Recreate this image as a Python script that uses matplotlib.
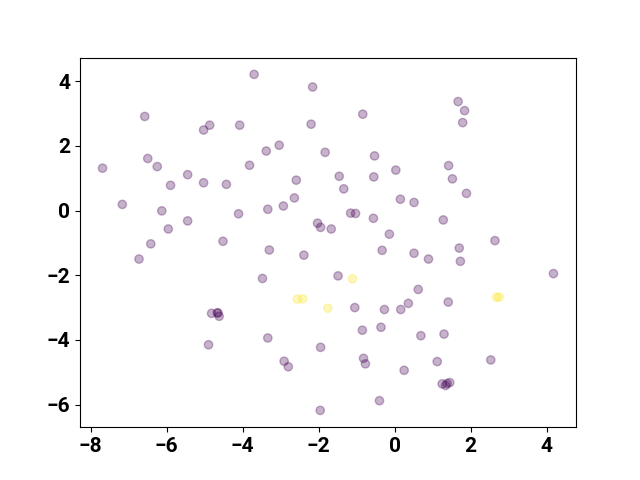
import matplotlib
matplotlib.use("Agg")
import matplotlib.pyplot as plt
import numpy as np

# ---- data: 2-D embedding, label 0 (purple) / 1 (yellow) -----------------
x0 = [-3.70, -6.58, -4.87, -5.03, -4.08, -7.69, -6.50, -6.25, -3.82, -5.45,
      -5.90, -5.03, -4.43, -7.17, -6.13, -4.11, -5.45, -5.96, -6.42, -4.52,
      -6.73, -4.82, -4.67, -4.65, -4.62, -4.90,
      -2.16, -0.84, -2.20, -3.04, -3.38, -1.83, -0.53, 0.03, -2.59, -1.46,
      -0.55, -1.34, -2.64, 0.15, 0.51, -3.34, -2.93, -1.16, -1.03, -0.56,
      -2.03, -1.95, -1.67, -0.14, -3.30, -0.33,
      1.67, 1.84, 1.79, 1.42, 1.52, 1.89, 1.28, 2.64, 1.70,
      -2.39, 0.51, -3.48, -1.49, -1.05, -0.27, 0.16, 0.36, -0.85, -0.36,
      -3.34, -1.95, -2.91, -2.80, -0.82, -0.77, 0.25, -0.40, -1.96,
      0.89, 1.73, 4.18, 0.62, 1.41, 0.69, 1.30, 2.53, 1.12,
      1.25, 1.34, 1.45, 1.38]
y0 = [4.21, 2.91, 2.64, 2.49, 2.64, 1.31, 1.61, 1.36, 1.40, 1.11,
      0.78, 0.86, 0.81, 0.19, -0.01, -0.10, -0.32, -0.57, -1.03, -0.95,
      -1.50, -3.18, -3.16, -3.17, -3.27, -4.15,
      3.82, 2.98, 2.67, 2.02, 1.84, 1.80, 1.69, 1.25, 0.94, 1.06,
      1.04, 0.67, 0.39, 0.35, 0.25, 0.04, 0.14, -0.08, -0.09, -0.24,
      -0.39, -0.52, -0.57, -0.73, -1.22, -1.23,
      3.37, 3.09, 2.72, 1.39, 0.98, 0.53, -0.29, -0.93, -1.16,
      -1.38, -1.32, -2.10, -2.02, -3.00, -3.06, -3.06, -2.87, -3.70, -3.61,
      -3.94, -4.23, -4.66, -4.83, -4.57, -4.74, -4.94, -5.88, -6.18,
      -1.50, -1.57, -1.95, -2.44, -2.83, -3.87, -3.82, -4.62, -4.67,
      -5.36, -5.41, -5.32, -5.35]

x1 = [-1.11, -2.56, -2.42, -1.76, 2.68, 2.75]
y1 = [-2.11, -2.74, -2.73, -3.02, -2.68, -2.68]

xs = np.array(x0 + x1)
ys = np.array(y0 + y1)
labels = np.array([0] * len(x0) + [1] * len(x1))

fig, ax = plt.subplots(figsize=(6.4, 4.8), dpi=100)
ax.scatter(xs, ys, c=labels, cmap="viridis", alpha=0.3)

ax.set_xticks([-8, -6, -4, -2, 0, 2, 4])
ax.set_yticks([-6, -4, -2, 0, 2, 4])
for lab in ax.get_xticklabels() + ax.get_yticklabels():
    lab.set_fontweight("bold")
    lab.set_fontsize(15)
    lab.set_family("Roboto")

fig.savefig("out.png", dpi=100)
